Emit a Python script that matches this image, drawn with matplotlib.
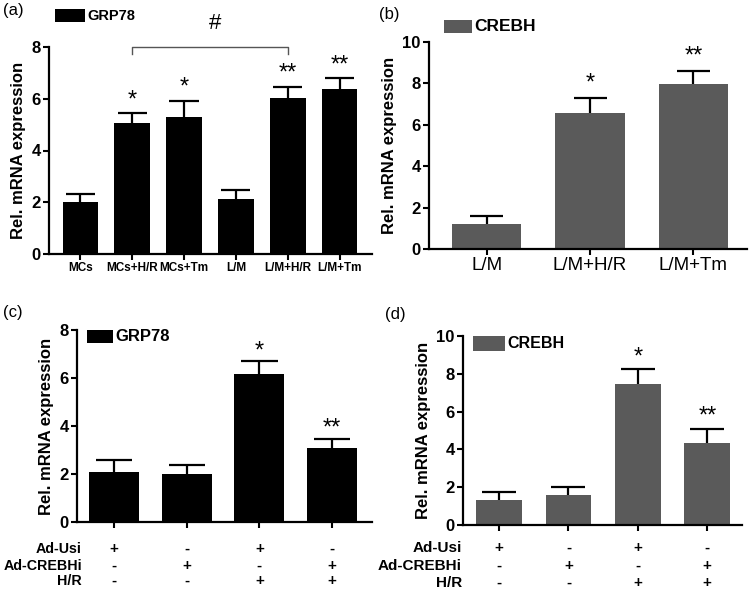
import matplotlib
matplotlib.use("Agg")
import matplotlib.pyplot as plt
from matplotlib.patches import Rectangle
import matplotlib.transforms as mtransforms
import numpy as np

plt.rcParams['font.family'] = ['Liberation Sans', 'DejaVu Sans']

# ---------------- data ----------------
a_cats = ["MCs", "MCs+H/R", "MCs+Tm", "L/M", "L/M+H/R", "L/M+Tm"]
a_vals = [2.02, 5.07, 5.31, 2.13, 6.03, 6.37]
a_errs = [0.28, 0.38, 0.61, 0.34, 0.43, 0.43]
a_stars = ["", "*", "*", "", "**", "**"]

b_cats = ["L/M", "L/M+H/R", "L/M+Tm"]
b_vals = [1.23, 6.59, 7.96]
b_errs = [0.35, 0.70, 0.62]
b_stars = ["", "*", "**"]

c_vals = [2.07, 2.00, 6.16, 3.09]
c_errs = [0.50, 0.36, 0.53, 0.38]
c_stars = ["", "", "*", "**"]

d_vals = [1.34, 1.59, 7.48, 4.34]
d_errs = [0.41, 0.42, 0.77, 0.74]
d_stars = ["", "", "*", "**"]

cond_rows = ["Ad-Usi", "Ad-CREBHi", "H/R"]
cond_signs = [["+", "-", "+", "-"],
              ["-", "+", "-", "+"],
              ["-", "-", "+", "+"]]

BLACK = "#000000"
GRAY = "#5a5a5a"

W, H = 750, 592
fig = plt.figure(figsize=(7.5, 5.92), dpi=100)


def ax_px(left, top, right, bottom):
    return fig.add_axes([left / W, 1 - bottom / H, (right - left) / W, (bottom - top) / H])


def style(ax, ymax, step, ylabel_size=12, tick_size=12):
    for s in ["top", "right"]:
        ax.spines[s].set_visible(False)
    for s in ["left", "bottom"]:
        ax.spines[s].set_linewidth(1.6)
    ax.set_ylim(0, ymax)
    ax.set_yticks(np.arange(0, ymax + 0.01, step))
    ax.tick_params(axis="both", direction="out", length=4, width=1.5, pad=2)
    for lab in ax.get_yticklabels():
        lab.set_fontweight("bold")
        lab.set_fontsize(tick_size)
    ax.set_ylabel("Rel. mRNA expression", fontsize=ylabel_size, fontweight="bold", labelpad=4)


def bars(ax, vals, errs, color, width, cap, stars, star_off, star_size=17):
    x = np.arange(len(vals))
    vals = np.asarray(vals)
    errs = np.asarray(errs)
    ax.bar(x, vals, width=width, color=color, edgecolor="none", zorder=2)
    ax.vlines(x, vals, vals + errs, color="black", lw=1.6, zorder=3)
    ax.hlines(vals + errs, x - cap, x + cap, color="black", lw=1.6, zorder=3)
    for xi, v, e, s in zip(x, vals, errs, stars):
        if s:
            ax.annotate(s, (xi, v + e), xytext=(0, star_off), textcoords="offset points",
                        ha="center", va="baseline", fontsize=star_size, annotation_clip=False)
    ax.set_xticks(x)
    return x


def legend_box(x0, y0, x1, y1, color, label, size):
    fig.patches.append(Rectangle((x0 / W, 1 - y1 / H), (x1 - x0) / W, (y1 - y0) / H,
                                 transform=fig.transFigure, facecolor=color, edgecolor="none"))
    fig.text((x1 + 2) / W, 1 - ((y0 + y1) / 2) / H, label, fontsize=size,
             fontweight="bold", va="center", ha="left")


# ---------------- (a) ----------------
axa = ax_px(49, 47, 372, 254)
xa = bars(axa, a_vals, a_errs, BLACK, 0.68, 0.28, a_stars, 5)
axa.set_xlim(-0.6, len(a_vals) - 1 + 0.62)
style(axa, 8, 2)
axa.set_xticklabels(a_cats, fontsize=8.5, fontweight="bold")
# bracket
axa.plot([1, 1, 4, 4], [7.72, 8.0, 8.0, 7.72], color="#555555", lw=1, clip_on=False, zorder=4)
axa.text(2.6, 8.92, "#", ha="center", va="center", fontsize=16, clip_on=False)
legend_box(55, 9, 85, 22, BLACK, "GRP78", 10.5)
fig.text(3 / W, 1 - 11 / H, "(a)", fontsize=12, va="center", ha="left")

# ---------------- (b) ----------------
axb = ax_px(429, 42, 747, 249)
xb = bars(axb, b_vals, b_errs, GRAY, 0.67, 0.16, b_stars, 6.5)
axb.set_xlim(-0.56, len(b_vals) - 1 + 0.52)
style(axb, 10, 2)
axb.set_xticklabels(b_cats, fontsize=13.5)
legend_box(444, 20, 472, 33, GRAY, "CREBH", 12.5)
fig.text(379 / W, 1 - 14 / H, "(b)", fontsize=12, va="center", ha="left")

# ---------------- (c) ----------------
axc = ax_px(77, 330, 372, 522)
xc = bars(axc, c_vals, c_errs, BLACK, 0.69, 0.25, c_stars, 3)
axc.set_xlim(-0.51, len(c_vals) - 1 + 0.55)
style(axc, 8, 2)
axc.set_xticklabels([""] * len(c_vals))
legend_box(87, 330, 113, 343, BLACK, "GRP78", 12)
fig.text(3 / W, 1 - 313 / H, "(c)", fontsize=12, va="center", ha="left")

# ---------------- (d) ----------------
axd = ax_px(463, 336, 742, 525)
xd = bars(axd, d_vals, d_errs, GRAY, 0.66, 0.245, d_stars, 4.3)
axd.set_xlim(-0.52, len(d_vals) - 1 + 0.5)
style(axd, 10, 2)
axd.set_xticklabels([""] * len(d_vals))
legend_box(473, 336, 505, 351, GRAY, "CREBH", 11.5)
fig.text(385 / W, 1 - 315 / H, "(d)", fontsize=12, va="center", ha="left")


def cond_table(ax, xs, rows_px, label_right_px, size):
    trans = mtransforms.blended_transform_factory(ax.transData, fig.transFigure)
    for r, (name, ypx) in enumerate(zip(cond_rows, rows_px)):
        fig.text(label_right_px / W, 1 - ypx / H, name, ha="right", va="center",
                 fontsize=size, fontweight="bold")
        for xi, s in zip(xs, cond_signs[r]):
            ax.text(xi, 1 - ypx / H, s, transform=trans, ha="center", va="center",
                    fontsize=11, fontweight="bold", clip_on=False)


cond_table(axc, xc, [549, 566, 581], 82, 10.3)
cond_table(axd, xd, [548, 566, 583], 462, 11)

fig.savefig("out.png", dpi=100)
